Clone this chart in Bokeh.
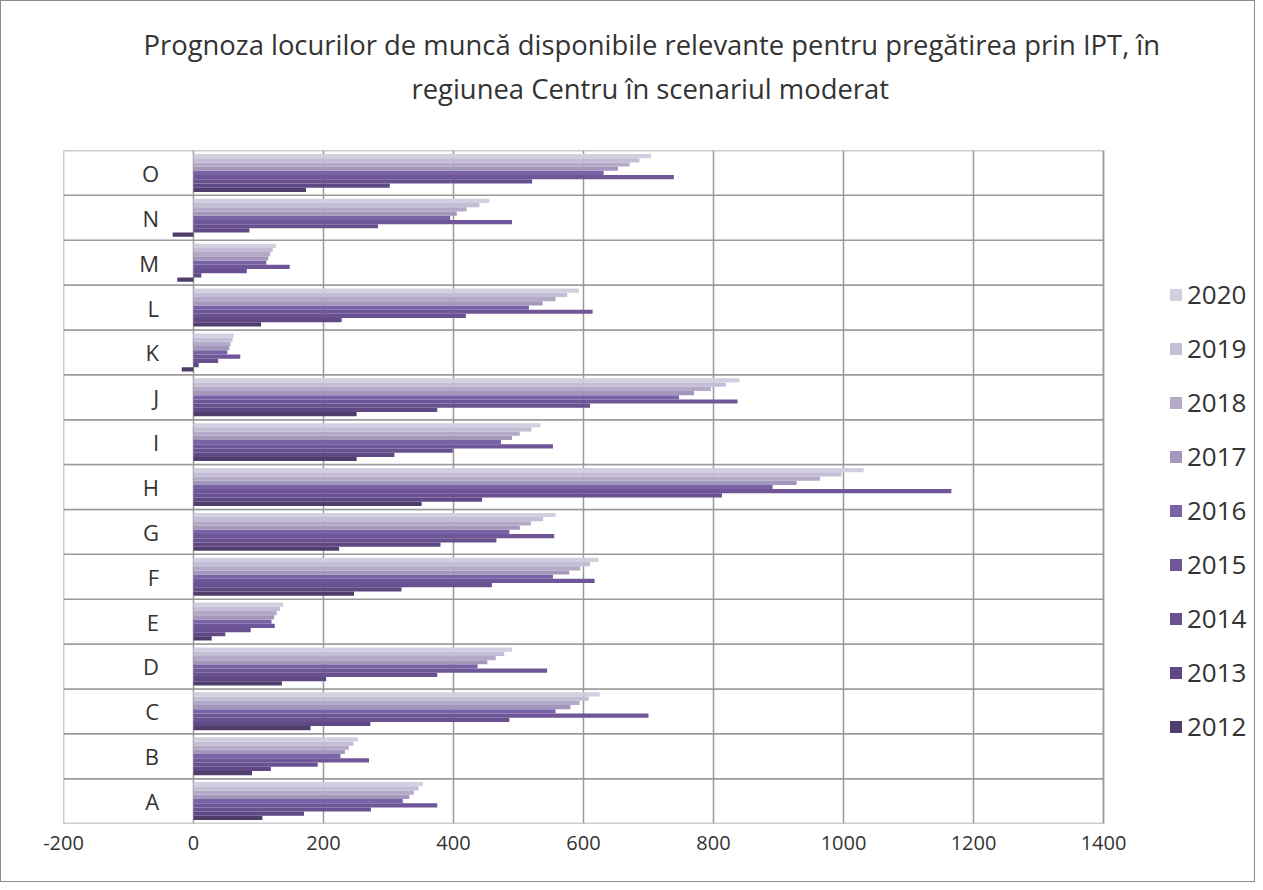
from bokeh.plotting import figure
from bokeh.models import (ColumnDataSource, FactorRange, Legend, LegendItem,
                          FixedTicker, Range1d, Title)
from bokeh.transform import dodge
from bokeh.core.properties import value
from bokeh.embed import file_html
from bokeh.resources import INLINE

categories = ["A", "B", "C", "D", "E", "F", "G", "H", "I", "J", "K", "L", "M", "N", "O"]
years = ["2012", "2013", "2014", "2015", "2016", "2017", "2018", "2019", "2020"]

y2012 = [106, 90, 180, 136, 28, 247, 224, 351, 251, 251, -18, 104, -25, -32, 173]
y2013 = [170, 119, 272, 204, 49, 320, 380, 444, 309, 375, 8, 228, 12, 86, 302]
y2014 = [273, 191, 486, 375, 88, 459, 466, 813, 399, 610, 38, 419, 82, 284, 521]
y2015 = [375, 270, 700, 544, 125, 617, 555, 1166, 553, 837, 72, 614, 148, 490, 739]
y2016 = [322, 226, 557, 437, 120, 553, 486, 891, 473, 747, 52, 516, 112, 395, 631]
y2017 = [332, 233, 580, 452, 124, 578, 502, 928, 490, 770, 55, 537, 115, 405, 653]
y2018 = [339, 239, 594, 465, 128, 595, 519, 964, 502, 796, 57, 557, 118, 420, 671]
y2019 = [346, 246, 608, 478, 133, 610, 538, 997, 520, 819, 60, 575, 122, 440, 686]
y2020 = [353, 253, 625, 490, 138, 623, 557, 1031, 534, 840, 62, 593, 127, 455, 704]

x_ticks = [-200, 0, 200, 400, 600, 800, 1000, 1200, 1400]
x_tick_labels = ["-200", "0", "200", "400", "600", "800", "1000", "1200", "1400"]

title_line1 = "Prognoza locurilor de muncă disponibile  relevante pentru pregătirea prin IPT, în"
title_line2 = "regiunea Centru în scenariul moderat"

series = [y2012, y2013, y2014, y2015, y2016, y2017, y2018, y2019, y2020]
colors = ["#4f3e6c", "#5f4884", "#69518f", "#6f5699", "#7a62a6",
          "#a397bb", "#b3aac8", "#c3bdd5", "#d3cfe0"]

FONT = "Open Sans"
TEXT = "#333333"
GRID = "#9a9a9a"

# plot area: 1040 px for the 1600-unit axis; the frame continues to the right
# (blank) so the legend can sit there
PX_PER_UNIT = 1040 / (x_ticks[-1] - x_ticks[0])
x_end = x_ticks[-1] + 153 / PX_PER_UNIT

p = figure(width=1255, height=882, output_backend="svg", toolbar_location=None,
           y_range=FactorRange(*categories, range_padding=0),
           x_range=Range1d(x_ticks[0], x_end),
           min_border_left=62, min_border_right=0,
           min_border_top=149, min_border_bottom=60)
p.styles = {"border": "1px solid #8c8c8c"}

# spacer + two-line title (first added sits nearest the plot)
p.add_layout(Title(text=" ", standoff=0, text_font=FONT, text_font_size="27px"), "above")
p.add_layout(Title(text=title_line2, align="left", offset=348, standoff=10,
                   text_font=FONT, text_font_size="27.4px", text_font_style="normal",
                   text_color=TEXT), "above")
p.add_layout(Title(text=title_line1, align="left", offset=80, standoff=0,
                   text_font=FONT, text_font_size="27.4px", text_font_style="normal",
                   text_color=TEXT), "above")

src = ColumnDataSource(dict(cat=categories, left=[x_ticks[0]] * len(categories),
                            right=[x_ticks[-1]] * len(categories)))
# category cells: plot border + horizontal lines at category boundaries
p.hbar(y="cat", left="left", right="right", height=1.0, source=src,
       fill_color="white", line_color=GRID, line_width=1.5, level="underlay")

bar_h = 0.094
n = len(years)
renderers = []
for i, (yr, vals, col) in enumerate(zip(years, series, colors)):
    s = ColumnDataSource(dict(cat=categories, val=vals))
    off = (i - (n - 1) / 2) * bar_h
    r = p.hbar(y=dodge("cat", off, range=p.y_range), left=0, right="val",
               height=bar_h, source=s, fill_color=col, line_color=None)
    renderers.append((yr, r))

# category labels inside the plot area, left of zero
label_x = -53
lab = ColumnDataSource(dict(cat=categories, x=[label_x] * len(categories)))
p.text(x="x", y="cat", text="cat", source=lab, text_align="right",
       text_baseline="middle", text_font=value(FONT), text_font_size="22px",
       text_color=TEXT)

legend = Legend(items=[LegendItem(label=yr, renderers=[r]) for yr, r in reversed(renderers)],
                location=(1105, 79), label_text_font=FONT, label_text_font_size="26px",
                label_text_color=TEXT, glyph_width=15, glyph_height=15,
                label_height=20, spacing=18, border_line_color=None,
                background_fill_alpha=0, margin=0, padding=10, label_standoff=4)
p.add_layout(legend)

p.xaxis.ticker = FixedTicker(ticks=x_ticks)
p.xaxis.major_label_overrides = {t: l for t, l in zip(x_ticks, x_tick_labels)}
p.xaxis.major_label_text_font = FONT
p.xaxis.major_label_text_font_size = "20px"
p.xaxis.major_label_text_color = TEXT
p.xaxis.major_tick_line_color = None
p.xaxis.minor_tick_line_color = None
p.xaxis.axis_line_color = None
p.xaxis.major_label_standoff = 6
p.yaxis.visible = False

p.xgrid.ticker = FixedTicker(ticks=x_ticks)
p.xgrid.grid_line_color = GRID
p.xgrid.grid_line_width = 1.5
p.xgrid.level = "underlay"
p.ygrid.grid_line_color = None
p.outline_line_color = None
p.background_fill_color = "white"
p.border_fill_color = "white"

open("out.html", "w").write(file_html(p, INLINE))
